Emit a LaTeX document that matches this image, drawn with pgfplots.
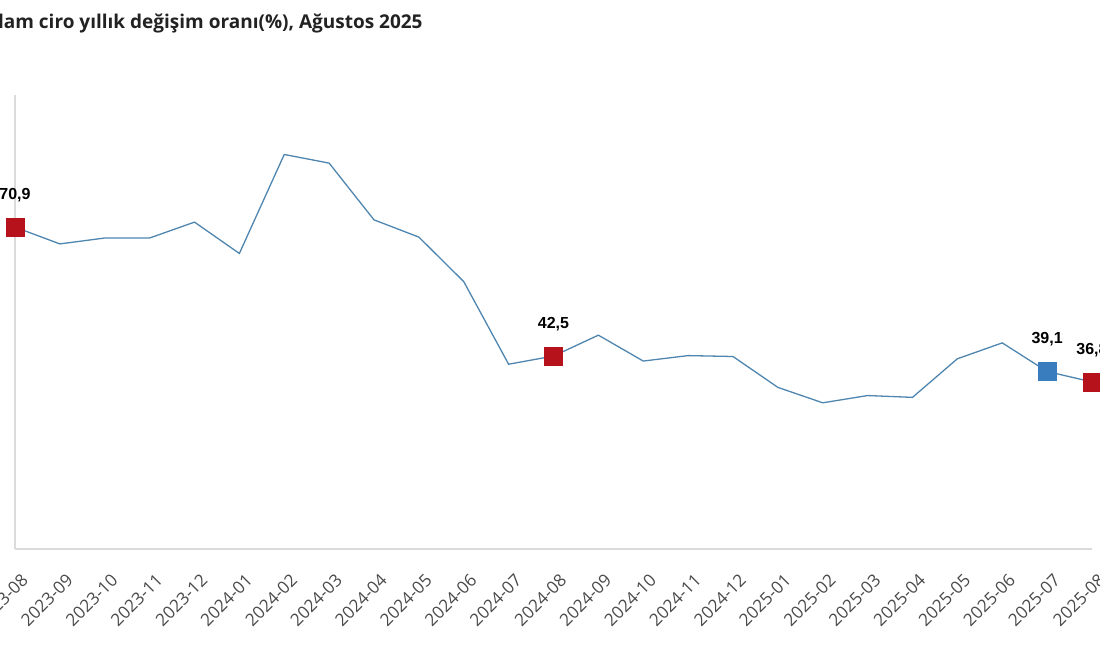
\documentclass[border=0pt]{standalone}
\usepackage{pgfplots}
\pgfplotsset{compat=1.18}
\usepackage{fontspec}
\setmainfont{Open Sans}
\newfontfamily\lib{Liberation Sans}
\definecolor{linec}{HTML}{4F86B0}
\definecolor{redm}{HTML}{B5121B}
\definecolor{bluem}{HTML}{3A7DBF}
\definecolor{tickc}{HTML}{4A4A4A}
\definecolor{titlec}{HTML}{222222}
\begin{document}
\begin{tikzpicture}
\useasboundingbox (0pt,0pt) rectangle (550pt,325pt);
\clip (0pt,0pt) rectangle (550pt,325pt);
\node[anchor=base east, font=\fontsize{9.5}{11}\selectfont\bfseries, text=titlec, inner sep=0pt] at (211.5pt,311pt) {Toplam ciro yıllık değişim oranı(\%), Ağustos 2025};
\begin{axis}[
  at={(7.5pt,50.5pt)}, anchor=south west,
  scale only axis, width=538.5pt, height=227pt,
  xmin=0, xmax=24, ymin=0, ymax=100,
  clip=false,
  axis x line=bottom, axis y line=left,
  axis line style={-, draw=black!14, line width=0.7pt},
  ytick=\empty,
  xtick={0,...,24},
  xticklabels={2023-08,2023-09,2023-10,2023-11,2023-12,2024-01,2024-02,2024-03,2024-04,2024-05,2024-06,2024-07,2024-08,2024-09,2024-10,2024-11,2024-12,2025-01,2025-02,2025-03,2025-04,2025-05,2025-06,2025-07,2025-08},
  major tick length=0pt,
  xticklabel style={font=\fontsize{8.6}{10}\selectfont, text=tickc, xshift=5pt, yshift=-14pt, rotate=45, anchor=east, inner sep=0pt},
  every node near coord/.append style={font=\lib\bfseries\fontsize{8}{9}\selectfont, text=black, anchor=south, inner sep=0pt, yshift=12.5pt},
]
\addplot[linec, line width=0.65pt, mark=none] coordinates {
(0,70.9) (1,67.2) (2,68.5) (3,68.5) (4,72.0) (5,65.1) (6,86.9) (7,85.0) (8,72.5) (9,68.7) (10,58.9) (11,40.7) (12,42.5) (13,47.1) (14,41.4) (15,42.6) (16,42.4) (17,35.6) (18,32.2) (19,33.8) (20,33.4) (21,41.9) (22,45.4) (23,39.1) (24,36.8)
};
\addplot[only marks, mark=square*, mark size=4.5pt, mark options={fill=redm, draw=redm},
  nodes near coords, point meta=explicit symbolic] coordinates {
(0,70.9) [70,9] (12,42.5) [42,5] (24,36.8) [36,8]
};
\addplot[only marks, mark=square*, mark size=4.5pt, mark options={fill=bluem, draw=bluem},
  nodes near coords, point meta=explicit symbolic] coordinates {
(23,39.1) [39,1]
};
\end{axis}
\end{tikzpicture}
\end{document}
